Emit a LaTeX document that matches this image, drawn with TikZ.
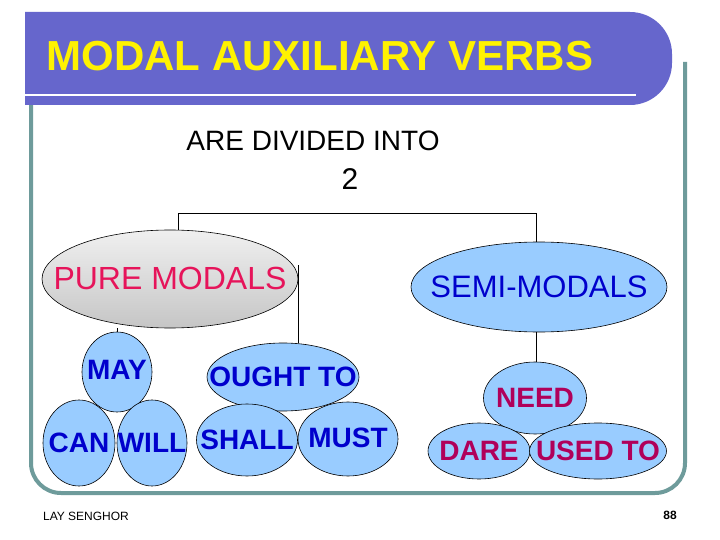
\documentclass[tikz,border=0pt]{standalone}
\usepackage{fontspec}
\setmainfont{Liberation Sans}
\usetikzlibrary{shapes.geometric,calc}
\definecolor{titlec}{HTML}{6666CC}
\definecolor{framec}{HTML}{6E9B9B}
\definecolor{bubble}{HTML}{99CCFF}
\definecolor{pinkc}{HTML}{E6145A}
\definecolor{magc}{HTML}{B0005A}
\definecolor{bluec}{HTML}{0000CC}
\begin{document}
\begin{tikzpicture}[x=1pt,y=-1pt,
  bub/.style={ellipse,draw=black,fill=bubble,inner sep=0pt,line width=0.6pt},
  btxt/.style={text=bluec,font=\fontsize{28}{28}\selectfont\bfseries},
  mtxt/.style={text=magc,font=\fontsize{28}{28}\selectfont\bfseries},
  conn/.style={draw=black,line width=0.6pt}]
\useasboundingbox (0,0) rectangle (720,540);
\fill[white] (0,0) rectangle (720,540);
% frame
\draw[line width=4pt,framec,rounded corners=30pt] (31,100) -- (31,493) -- (685,493) -- (685,62);
% title bar
\fill[titlec] (25,12) [rounded corners=42pt]-- (672,12) -- (672,105) [sharp corners]-- (25,105) -- cycle;
\draw[white,line width=2pt] (25,95) -- (636,95);
\node[text=yellow,anchor=west,font=\fontsize{42}{42}\selectfont\bfseries] (title) at (43,56) {MODAL AUXILIARY VERBS};
\node[font=\fontsize{28}{28}\selectfont] (are) at (313,141) {ARE DIVIDED INTO};
\node[font=\fontsize{30}{30}\selectfont] (two) at (350,179) {2};
% main nodes
\node[ellipse,draw=black,line width=0.6pt,top color=gray!12,bottom color=gray!45,minimum width=256pt,minimum height=98pt,inner sep=0pt,
  label={[text=pinkc,font=\fontsize{32}{32}\selectfont]center:\raisebox{2pt}{PURE MODALS}}] (pure) at (170,279) {};
\node[bub,minimum width=256pt,minimum height=90pt,
  label={[text=bluec,font=\fontsize{31}{31}\selectfont]center:SEMI-MODALS}] (semi) at (539,287) {};
% pure children
\node[bub,minimum width=70pt,minimum height=80pt,label={[btxt]center:\raisebox{4pt}{MAY}}] (may) at (117,372) {};
\node[bub,minimum width=152pt,minimum height=68pt,label={[btxt]center:OUGHT TO}] (ought) at (283,377) {};
\node[bub,minimum width=72pt,minimum height=86pt,label={[btxt]center:CAN}] (can) at (79,443) {};
\node[bub,minimum width=70pt,minimum height=86pt,label={[btxt]center:WILL}] (will) at (152,443) {};
\node[bub,minimum width=101pt,minimum height=72pt,label={[btxt]center:SHALL}] (shall) at (247,440) {};
\node[bub,minimum width=100pt,minimum height=74pt,label={[btxt]center:\raisebox{3pt}{MUST}}] (must) at (348,439) {};
% semi children
\node[bub,minimum width=103pt,minimum height=72pt,label={[mtxt]center:NEED}] (need) at (535,398) {};
\node[bub,minimum width=102pt,minimum height=56pt,label={[mtxt]center:DARE}] (dare) at (479,451) {};
\node[bub,minimum width=137pt,minimum height=56pt,label={[mtxt]center:USED TO}] (used) at (598,451) {};
% connectors
\coordinate (t1) at (178,213);
\coordinate (t2) at (536,213);
\draw[conn] (pure.north -| t1) -- (t1) -- (t2) -- (semi.north -| t2);
\draw[conn] ($(pure.east)+(0,-14)$) -- (ought.north -| pure.east);
\draw[conn] (may.north) -- (may.north |- pure.south);
\draw[conn] (semi.south -| t2) -- (need.north -| t2);
% footer
\node[font=\fontsize{12}{12}\selectfont] (auth) at (86,516) {LAY SENGHOR};
\node[font=\fontsize{12}{12}\selectfont\bfseries] (page) at (670,515) {88};
\end{tikzpicture}
\end{document}
